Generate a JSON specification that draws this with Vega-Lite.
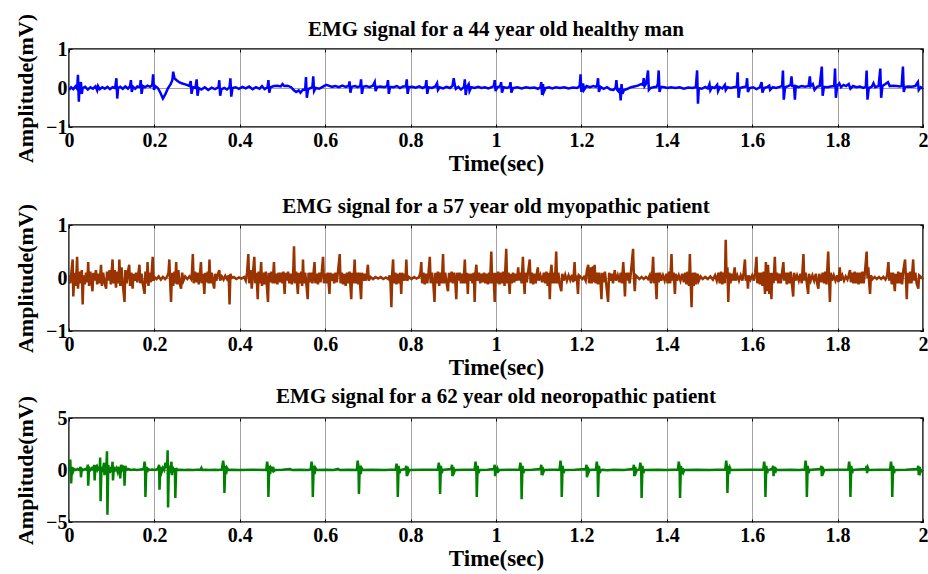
{
"$schema":"https://vega.github.io/schema/vega-lite/v6.json",
"padding":{"left":13,"top":12,"right":0,"bottom":0},
"background":"white",
"config":{
 "font":"Liberation Serif",
 "view":{"stroke":"black","strokeWidth":1.5},
 "title":{"font":"Liberation Serif","fontSize":21,"fontWeight":"bold","color":"black","anchor":"middle"},
 "axis":{"labelFont":"Liberation Serif","labelFontSize":20,"labelFontWeight":"bold","labelColor":"black","titleFont":"Liberation Serif","titleFontWeight":"bold","titleColor":"black","domain":false,"tickColor":"black","tickSize":-3,"tickWidth":1,"gridColor":"#8c8c8c","gridWidth":0.8,"labelFlush":false,"labelOverlap":false,"minExtent":0},
 "axisX":{"labelPadding":6,"titlePadding":2,"titleFontSize":23},
 "axisY":{"labelPadding":5,"titlePadding":8,"titleFontSize":22}
},
"datasets":{
"a":[{"t":0.000,"v":-0.05},{"t":0.005,"v":0.02},{"t":0.010,"v":-0.03},{"t":0.015,"v":0.04},{"t":0.019,"v":-0.02},{"t":0.021,"v":0.34},{"t":0.023,"v":-0.35},{"t":0.025,"v":0.05},{"t":0.028,"v":0.15},{"t":0.030,"v":-0.15},{"t":0.032,"v":0.0},{"t":0.038,"v":0.03},{"t":0.044,"v":-0.04},{"t":0.050,"v":0.02},{"t":0.056,"v":-0.02},{"t":0.062,"v":0.04},{"t":0.066,"v":-0.06},{"t":0.068,"v":0.05},{"t":0.072,"v":-0.03},{"t":0.078,"v":0.02},{"t":0.084,"v":-0.02},{"t":0.090,"v":0.03},{"t":0.096,"v":-0.03},{"t":0.102,"v":0.02},{"t":0.108,"v":0.0},{"t":0.111,"v":0.25},{"t":0.113,"v":-0.27},{"t":0.115,"v":0.0},{"t":0.120,"v":0.03},{"t":0.126,"v":-0.02},{"t":0.132,"v":0.04},{"t":0.138,"v":-0.02},{"t":0.143,"v":0.05},{"t":0.145,"v":0.2},{"t":0.147,"v":-0.1},{"t":0.150,"v":0.03},{"t":0.155,"v":-0.02},{"t":0.160,"v":0.04},{"t":0.166,"v":0.02},{"t":0.168,"v":0.2},{"t":0.170,"v":-0.15},{"t":0.173,"v":0.05},{"t":0.178,"v":0.02},{"t":0.184,"v":0.06},{"t":0.190,"v":0.03},{"t":0.195,"v":0.08},{"t":0.197,"v":0.35},{"t":0.199,"v":-0.05},{"t":0.202,"v":0.05},{"t":0.208,"v":0.0},{"t":0.214,"v":-0.12},{"t":0.220,"v":-0.27},{"t":0.226,"v":-0.15},{"t":0.232,"v":0.0},{"t":0.238,"v":0.1},{"t":0.242,"v":0.2},{"t":0.244,"v":0.42},{"t":0.247,"v":0.25},{"t":0.252,"v":0.2},{"t":0.258,"v":0.15},{"t":0.264,"v":0.12},{"t":0.270,"v":0.1},{"t":0.276,"v":0.08},{"t":0.282,"v":0.05},{"t":0.285,"v":0.18},{"t":0.287,"v":-0.15},{"t":0.290,"v":0.02},{"t":0.296,"v":0.0},{"t":0.299,"v":0.22},{"t":0.301,"v":-0.2},{"t":0.304,"v":0.0},{"t":0.310,"v":-0.04},{"t":0.318,"v":0.02},{"t":0.326,"v":-0.05},{"t":0.334,"v":0.01},{"t":0.342,"v":-0.03},{"t":0.350,"v":0.02},{"t":0.352,"v":0.2},{"t":0.354,"v":-0.2},{"t":0.357,"v":-0.03},{"t":0.364,"v":0.0},{"t":0.370,"v":-0.04},{"t":0.376,"v":0.02},{"t":0.378,"v":0.25},{"t":0.380,"v":-0.22},{"t":0.383,"v":0.0},{"t":0.390,"v":0.02},{"t":0.398,"v":-0.02},{"t":0.406,"v":0.03},{"t":0.414,"v":-0.01},{"t":0.422,"v":0.04},{"t":0.430,"v":-0.03},{"t":0.438,"v":0.02},{"t":0.446,"v":-0.02},{"t":0.452,"v":0.05},{"t":0.458,"v":-0.03},{"t":0.465,"v":0.02},{"t":0.467,"v":0.2},{"t":0.469,"v":-0.12},{"t":0.472,"v":0.02},{"t":0.480,"v":0.05},{"t":0.488,"v":0.06},{"t":0.496,"v":0.04},{"t":0.500,"v":0.1},{"t":0.504,"v":0.05},{"t":0.512,"v":0.06},{"t":0.520,"v":0.02},{"t":0.526,"v":-0.05},{"t":0.532,"v":-0.1},{"t":0.538,"v":-0.06},{"t":0.542,"v":-0.12},{"t":0.548,"v":-0.04},{"t":0.553,"v":-0.05},{"t":0.555,"v":0.28},{"t":0.557,"v":-0.25},{"t":0.560,"v":-0.03},{"t":0.566,"v":0.0},{"t":0.570,"v":0.02},{"t":0.572,"v":0.3},{"t":0.574,"v":-0.08},{"t":0.578,"v":0.0},{"t":0.586,"v":-0.02},{"t":0.594,"v":0.03},{"t":0.602,"v":0.08},{"t":0.608,"v":0.06},{"t":0.616,"v":0.03},{"t":0.624,"v":0.05},{"t":0.632,"v":0.02},{"t":0.640,"v":0.06},{"t":0.648,"v":0.03},{"t":0.655,"v":0.05},{"t":0.657,"v":0.17},{"t":0.659,"v":-0.12},{"t":0.662,"v":0.03},{"t":0.670,"v":0.05},{"t":0.676,"v":0.02},{"t":0.682,"v":0.05},{"t":0.684,"v":0.22},{"t":0.686,"v":-0.15},{"t":0.689,"v":0.03},{"t":0.696,"v":0.05},{"t":0.704,"v":0.02},{"t":0.712,"v":0.06},{"t":0.716,"v":0.15},{"t":0.718,"v":-0.08},{"t":0.722,"v":0.03},{"t":0.730,"v":0.04},{"t":0.738,"v":0.02},{"t":0.745,"v":0.05},{"t":0.747,"v":0.2},{"t":0.749,"v":-0.15},{"t":0.752,"v":0.03},{"t":0.760,"v":0.02},{"t":0.768,"v":0.05},{"t":0.775,"v":0.0},{"t":0.782,"v":0.04},{"t":0.789,"v":0.04},{"t":0.791,"v":0.22},{"t":0.793,"v":-0.15},{"t":0.796,"v":0.02},{"t":0.804,"v":0.03},{"t":0.812,"v":0.01},{"t":0.820,"v":0.04},{"t":0.828,"v":0.0},{"t":0.835,"v":0.04},{"t":0.837,"v":0.2},{"t":0.839,"v":-0.15},{"t":0.842,"v":0.02},{"t":0.850,"v":0.0},{"t":0.858,"v":0.04},{"t":0.862,"v":0.12},{"t":0.864,"v":-0.05},{"t":0.868,"v":0.02},{"t":0.876,"v":-0.01},{"t":0.884,"v":0.03},{"t":0.892,"v":0.0},{"t":0.898,"v":0.05},{"t":0.901,"v":0.25},{"t":0.903,"v":0.1},{"t":0.906,"v":-0.02},{"t":0.912,"v":0.03},{"t":0.918,"v":-0.04},{"t":0.925,"v":0.03},{"t":0.927,"v":0.22},{"t":0.929,"v":-0.18},{"t":0.932,"v":0.03},{"t":0.936,"v":0.1},{"t":0.938,"v":-0.08},{"t":0.942,"v":0.02},{"t":0.950,"v":0.0},{"t":0.958,"v":0.03},{"t":0.966,"v":0.0},{"t":0.974,"v":0.02},{"t":0.982,"v":-0.01},{"t":0.990,"v":0.02},{"t":0.995,"v":0.05},{"t":0.997,"v":0.2},{"t":0.999,"v":-0.08},{"t":1.003,"v":0.02},{"t":1.010,"v":0.05},{"t":1.012,"v":0.15},{"t":1.014,"v":-0.12},{"t":1.018,"v":0.02},{"t":1.026,"v":0.0},{"t":1.032,"v":0.03},{"t":1.034,"v":0.15},{"t":1.036,"v":-0.12},{"t":1.040,"v":0.0},{"t":1.050,"v":0.02},{"t":1.060,"v":-0.01},{"t":1.070,"v":0.02},{"t":1.080,"v":0.0},{"t":1.090,"v":0.01},{"t":1.098,"v":-0.02},{"t":1.104,"v":0.02},{"t":1.106,"v":0.15},{"t":1.108,"v":-0.18},{"t":1.110,"v":0.1},{"t":1.112,"v":-0.1},{"t":1.116,"v":0.0},{"t":1.124,"v":0.02},{"t":1.132,"v":-0.01},{"t":1.140,"v":0.02},{"t":1.150,"v":0.0},{"t":1.160,"v":0.02},{"t":1.170,"v":-0.01},{"t":1.180,"v":0.01},{"t":1.190,"v":0.0},{"t":1.196,"v":0.05},{"t":1.198,"v":0.35},{"t":1.200,"v":-0.1},{"t":1.204,"v":0.12},{"t":1.206,"v":-0.05},{"t":1.212,"v":0.05},{"t":1.220,"v":0.02},{"t":1.228,"v":0.05},{"t":1.234,"v":0.03},{"t":1.237,"v":0.08},{"t":1.239,"v":0.25},{"t":1.241,"v":-0.1},{"t":1.245,"v":0.03},{"t":1.252,"v":-0.02},{"t":1.260,"v":0.02},{"t":1.268,"v":-0.04},{"t":1.275,"v":-0.05},{"t":1.280,"v":0.0},{"t":1.282,"v":0.2},{"t":1.284,"v":-0.05},{"t":1.288,"v":-0.1},{"t":1.290,"v":0.0},{"t":1.292,"v":-0.32},{"t":1.294,"v":0.1},{"t":1.296,"v":-0.15},{"t":1.300,"v":-0.05},{"t":1.308,"v":-0.02},{"t":1.316,"v":0.02},{"t":1.324,"v":0.04},{"t":1.332,"v":0.06},{"t":1.340,"v":0.1},{"t":1.344,"v":0.08},{"t":1.346,"v":0.25},{"t":1.348,"v":0.05},{"t":1.352,"v":0.12},{"t":1.356,"v":0.45},{"t":1.358,"v":-0.05},{"t":1.362,"v":0.0},{"t":1.368,"v":0.02},{"t":1.376,"v":0.03},{"t":1.379,"v":0.1},{"t":1.381,"v":0.45},{"t":1.383,"v":-0.1},{"t":1.386,"v":0.03},{"t":1.394,"v":0.02},{"t":1.402,"v":0.0},{"t":1.410,"v":0.02},{"t":1.420,"v":0.0},{"t":1.430,"v":0.02},{"t":1.440,"v":-0.02},{"t":1.450,"v":0.01},{"t":1.460,"v":0.0},{"t":1.468,"v":0.02},{"t":1.471,"v":0.45},{"t":1.473,"v":-0.4},{"t":1.475,"v":0.0},{"t":1.482,"v":-0.02},{"t":1.490,"v":0.03},{"t":1.496,"v":-0.01},{"t":1.500,"v":0.1},{"t":1.502,"v":-0.06},{"t":1.506,"v":0.02},{"t":1.512,"v":0.0},{"t":1.518,"v":0.08},{"t":1.520,"v":-0.08},{"t":1.524,"v":0.02},{"t":1.530,"v":-0.01},{"t":1.536,"v":0.08},{"t":1.538,"v":-0.05},{"t":1.542,"v":0.02},{"t":1.550,"v":0.0},{"t":1.556,"v":0.02},{"t":1.564,"v":0.03},{"t":1.566,"v":0.4},{"t":1.568,"v":-0.25},{"t":1.571,"v":0.0},{"t":1.578,"v":0.02},{"t":1.586,"v":0.04},{"t":1.588,"v":0.25},{"t":1.590,"v":-0.1},{"t":1.594,"v":0.0},{"t":1.602,"v":0.02},{"t":1.610,"v":-0.03},{"t":1.618,"v":0.02},{"t":1.622,"v":0.15},{"t":1.624,"v":-0.12},{"t":1.628,"v":0.0},{"t":1.636,"v":0.03},{"t":1.640,"v":0.06},{"t":1.642,"v":-0.05},{"t":1.648,"v":0.02},{"t":1.656,"v":0.0},{"t":1.664,"v":0.03},{"t":1.670,"v":0.05},{"t":1.672,"v":0.45},{"t":1.674,"v":-0.3},{"t":1.677,"v":0.02},{"t":1.684,"v":0.05},{"t":1.690,"v":0.08},{"t":1.692,"v":0.3},{"t":1.694,"v":0.05},{"t":1.698,"v":0.05},{"t":1.700,"v":-0.3},{"t":1.702,"v":0.05},{"t":1.708,"v":0.02},{"t":1.716,"v":0.05},{"t":1.724,"v":0.03},{"t":1.732,"v":0.05},{"t":1.735,"v":0.3},{"t":1.737,"v":0.05},{"t":1.742,"v":0.1},{"t":1.746,"v":-0.05},{"t":1.752,"v":0.03},{"t":1.758,"v":0.05},{"t":1.763,"v":0.55},{"t":1.765,"v":-0.2},{"t":1.768,"v":0.03},{"t":1.776,"v":0.02},{"t":1.784,"v":0.04},{"t":1.792,"v":0.05},{"t":1.794,"v":0.5},{"t":1.796,"v":-0.25},{"t":1.799,"v":0.05},{"t":1.804,"v":0.12},{"t":1.808,"v":0.02},{"t":1.814,"v":0.08},{"t":1.820,"v":0.05},{"t":1.826,"v":0.1},{"t":1.830,"v":-0.02},{"t":1.836,"v":0.05},{"t":1.844,"v":0.02},{"t":1.852,"v":0.04},{"t":1.860,"v":0.0},{"t":1.866,"v":0.03},{"t":1.868,"v":0.45},{"t":1.870,"v":-0.3},{"t":1.873,"v":0.0},{"t":1.880,"v":0.03},{"t":1.884,"v":0.12},{"t":1.888,"v":0.02},{"t":1.896,"v":0.05},{"t":1.900,"v":0.5},{"t":1.902,"v":-0.25},{"t":1.905,"v":0.05},{"t":1.912,"v":0.1},{"t":1.918,"v":0.15},{"t":1.922,"v":0.05},{"t":1.930,"v":0.06},{"t":1.938,"v":0.05},{"t":1.946,"v":0.04},{"t":1.950,"v":0.05},{"t":1.953,"v":0.55},{"t":1.955,"v":-0.1},{"t":1.958,"v":0.03},{"t":1.966,"v":0.04},{"t":1.974,"v":0.03},{"t":1.982,"v":0.05},{"t":1.988,"v":0.15},{"t":1.990,"v":-0.05},{"t":1.995,"v":0.02},{"t":2.000,"v":-0.02}],
"b":[{"t":0.000,"v":0.05},{"t":0.003,"v":-0.1},{"t":0.006,"v":0.15},{"t":0.0086,"v":0.35},{"t":0.010,"v":-0.35},{"t":0.013,"v":0.1},{"t":0.016,"v":-0.15},{"t":0.019,"v":0.4},{"t":0.021,"v":-0.2},{"t":0.024,"v":0.12},{"t":0.027,"v":-0.1},{"t":0.030,"v":0.15},{"t":0.032,"v":-0.5},{"t":0.034,"v":0.05},{"t":0.037,"v":-0.12},{"t":0.040,"v":0.1},{"t":0.043,"v":-0.08},{"t":0.045,"v":0.3},{"t":0.047,"v":-0.15},{"t":0.050,"v":0.12},{"t":0.053,"v":-0.1},{"t":0.055,"v":-0.25},{"t":0.057,"v":0.1},{"t":0.060,"v":-0.05},{"t":0.063,"v":0.15},{"t":0.066,"v":-0.12},{"t":0.069,"v":0.08},{"t":0.072,"v":-0.1},{"t":0.075,"v":0.25},{"t":0.077,"v":-0.15},{"t":0.080,"v":0.1},{"t":0.083,"v":-0.08},{"t":0.087,"v":-0.2},{"t":0.089,"v":0.12},{"t":0.092,"v":-0.05},{"t":0.095,"v":0.15},{"t":0.098,"v":-0.12},{"t":0.102,"v":0.35},{"t":0.104,"v":-0.1},{"t":0.107,"v":0.15},{"t":0.110,"v":-0.18},{"t":0.113,"v":0.12},{"t":0.116,"v":-0.1},{"t":0.118,"v":0.35},{"t":0.120,"v":-0.15},{"t":0.123,"v":0.2},{"t":0.126,"v":-0.12},{"t":0.130,"v":-0.45},{"t":0.132,"v":0.15},{"t":0.135,"v":-0.1},{"t":0.138,"v":0.12},{"t":0.141,"v":0.25},{"t":0.143,"v":-0.15},{"t":0.146,"v":0.1},{"t":0.149,"v":-0.2},{"t":0.151,"v":0.08},{"t":0.154,"v":-0.05},{"t":0.157,"v":0.1},{"t":0.160,"v":-0.08},{"t":0.163,"v":0.12},{"t":0.165,"v":0.25},{"t":0.167,"v":-0.1},{"t":0.170,"v":0.08},{"t":0.173,"v":-0.12},{"t":0.177,"v":-0.3},{"t":0.179,"v":0.12},{"t":0.182,"v":-0.1},{"t":0.184,"v":0.3},{"t":0.186,"v":-0.15},{"t":0.189,"v":0.1},{"t":0.192,"v":-0.08},{"t":0.194,"v":0.15},{"t":0.196,"v":0.4},{"t":0.198,"v":-0.05},{"t":0.200,"v":0.02},{"t":0.205,"v":-0.02},{"t":0.210,"v":0.03},{"t":0.215,"v":-0.03},{"t":0.220,"v":0.02},{"t":0.225,"v":-0.02},{"t":0.230,"v":0.03},{"t":0.233,"v":0.1},{"t":0.235,"v":0.35},{"t":0.237,"v":-0.1},{"t":0.239,"v":-0.45},{"t":0.241,"v":0.1},{"t":0.244,"v":-0.15},{"t":0.247,"v":0.12},{"t":0.249,"v":-0.1},{"t":0.251,"v":0.3},{"t":0.253,"v":-0.12},{"t":0.256,"v":0.15},{"t":0.259,"v":-0.1},{"t":0.2625,"v":-0.2},{"t":0.265,"v":0.1},{"t":0.268,"v":-0.05},{"t":0.272,"v":0.03},{"t":0.277,"v":-0.02},{"t":0.282,"v":0.03},{"t":0.286,"v":-0.02},{"t":0.288,"v":0.1},{"t":0.290,"v":0.45},{"t":0.292,"v":-0.1},{"t":0.295,"v":0.12},{"t":0.298,"v":-0.08},{"t":0.301,"v":0.1},{"t":0.304,"v":-0.12},{"t":0.307,"v":0.1},{"t":0.309,"v":0.3},{"t":0.311,"v":-0.1},{"t":0.314,"v":0.08},{"t":0.317,"v":-0.3},{"t":0.319,"v":0.1},{"t":0.322,"v":-0.08},{"t":0.325,"v":0.12},{"t":0.327,"v":-0.1},{"t":0.329,"v":0.35},{"t":0.331,"v":-0.1},{"t":0.334,"v":0.1},{"t":0.337,"v":-0.08},{"t":0.340,"v":-0.2},{"t":0.342,"v":0.08},{"t":0.345,"v":-0.05},{"t":0.348,"v":0.06},{"t":0.352,"v":0.15},{"t":0.354,"v":-0.05},{"t":0.358,"v":0.03},{"t":0.362,"v":-0.03},{"t":0.366,"v":0.04},{"t":0.370,"v":-0.02},{"t":0.374,"v":0.05},{"t":0.376,"v":-0.5},{"t":0.378,"v":0.08},{"t":0.381,"v":0.0},{"t":0.386,"v":0.02},{"t":0.392,"v":-0.02},{"t":0.398,"v":0.01},{"t":0.404,"v":-0.01},{"t":0.410,"v":0.02},{"t":0.414,"v":-0.05},{"t":0.417,"v":0.1},{"t":0.420,"v":0.45},{"t":0.422,"v":-0.1},{"t":0.425,"v":0.15},{"t":0.428,"v":-0.2},{"t":0.431,"v":0.12},{"t":0.434,"v":0.4},{"t":0.436,"v":-0.1},{"t":0.439,"v":0.1},{"t":0.442,"v":-0.4},{"t":0.444,"v":0.12},{"t":0.447,"v":-0.1},{"t":0.450,"v":0.3},{"t":0.452,"v":-0.15},{"t":0.455,"v":0.1},{"t":0.458,"v":-0.12},{"t":0.461,"v":0.12},{"t":0.463,"v":-0.1},{"t":0.466,"v":-0.45},{"t":0.468,"v":0.1},{"t":0.471,"v":-0.08},{"t":0.474,"v":0.12},{"t":0.477,"v":-0.1},{"t":0.480,"v":0.3},{"t":0.482,"v":-0.1},{"t":0.485,"v":0.08},{"t":0.488,"v":-0.12},{"t":0.491,"v":0.1},{"t":0.494,"v":-0.08},{"t":0.497,"v":0.1},{"t":0.500,"v":-0.1},{"t":0.502,"v":0.12},{"t":0.505,"v":-0.3},{"t":0.507,"v":0.1},{"t":0.510,"v":-0.05},{"t":0.513,"v":0.12},{"t":0.516,"v":-0.1},{"t":0.519,"v":0.08},{"t":0.522,"v":-0.12},{"t":0.525,"v":0.1},{"t":0.527,"v":0.6},{"t":0.529,"v":-0.1},{"t":0.532,"v":0.12},{"t":0.536,"v":-0.3},{"t":0.538,"v":0.1},{"t":0.541,"v":-0.1},{"t":0.544,"v":0.12},{"t":0.546,"v":-0.15},{"t":0.548,"v":0.35},{"t":0.550,"v":-0.1},{"t":0.553,"v":0.1},{"t":0.556,"v":-0.12},{"t":0.559,"v":-0.4},{"t":0.561,"v":0.1},{"t":0.564,"v":-0.08},{"t":0.567,"v":0.1},{"t":0.570,"v":-0.1},{"t":0.573,"v":0.12},{"t":0.575,"v":0.3},{"t":0.577,"v":-0.1},{"t":0.580,"v":0.08},{"t":0.583,"v":-0.12},{"t":0.586,"v":0.1},{"t":0.589,"v":-0.08},{"t":0.592,"v":0.12},{"t":0.595,"v":0.4},{"t":0.597,"v":-0.1},{"t":0.600,"v":0.08},{"t":0.603,"v":-0.1},{"t":0.606,"v":0.1},{"t":0.610,"v":-0.3},{"t":0.612,"v":0.1},{"t":0.615,"v":-0.05},{"t":0.618,"v":0.08},{"t":0.621,"v":-0.1},{"t":0.624,"v":0.1},{"t":0.627,"v":-0.08},{"t":0.630,"v":0.12},{"t":0.634,"v":0.45},{"t":0.636,"v":-0.1},{"t":0.639,"v":0.1},{"t":0.642,"v":-0.12},{"t":0.645,"v":0.08},{"t":0.648,"v":-0.15},{"t":0.651,"v":0.1},{"t":0.654,"v":-0.1},{"t":0.657,"v":0.12},{"t":0.661,"v":-0.4},{"t":0.663,"v":0.1},{"t":0.666,"v":-0.1},{"t":0.669,"v":0.35},{"t":0.671,"v":-0.1},{"t":0.674,"v":0.1},{"t":0.677,"v":-0.12},{"t":0.680,"v":0.1},{"t":0.684,"v":-0.4},{"t":0.686,"v":0.1},{"t":0.689,"v":-0.05},{"t":0.692,"v":0.08},{"t":0.695,"v":-0.05},{"t":0.698,"v":0.1},{"t":0.700,"v":0.25},{"t":0.702,"v":-0.05},{"t":0.706,"v":0.02},{"t":0.712,"v":-0.02},{"t":0.718,"v":0.02},{"t":0.724,"v":-0.01},{"t":0.730,"v":0.02},{"t":0.736,"v":-0.02},{"t":0.742,"v":0.01},{"t":0.748,"v":-0.02},{"t":0.751,"v":0.05},{"t":0.753,"v":-0.1},{"t":0.755,"v":-0.55},{"t":0.757,"v":0.1},{"t":0.759,"v":0.35},{"t":0.761,"v":-0.1},{"t":0.764,"v":0.1},{"t":0.767,"v":-0.12},{"t":0.770,"v":0.08},{"t":0.773,"v":-0.1},{"t":0.776,"v":0.1},{"t":0.778,"v":-0.3},{"t":0.780,"v":0.1},{"t":0.783,"v":-0.05},{"t":0.786,"v":0.08},{"t":0.788,"v":-0.05},{"t":0.790,"v":0.35},{"t":0.792,"v":-0.05},{"t":0.796,"v":0.02},{"t":0.802,"v":-0.02},{"t":0.808,"v":0.02},{"t":0.814,"v":-0.01},{"t":0.820,"v":0.02},{"t":0.823,"v":0.1},{"t":0.825,"v":0.3},{"t":0.827,"v":-0.1},{"t":0.830,"v":0.1},{"t":0.833,"v":-0.12},{"t":0.836,"v":0.08},{"t":0.839,"v":-0.1},{"t":0.842,"v":0.1},{"t":0.845,"v":0.4},{"t":0.847,"v":-0.1},{"t":0.850,"v":0.1},{"t":0.853,"v":-0.08},{"t":0.856,"v":-0.45},{"t":0.858,"v":0.1},{"t":0.861,"v":-0.1},{"t":0.864,"v":0.12},{"t":0.867,"v":-0.15},{"t":0.870,"v":0.1},{"t":0.873,"v":-0.1},{"t":0.876,"v":0.45},{"t":0.878,"v":-0.1},{"t":0.881,"v":0.1},{"t":0.884,"v":-0.08},{"t":0.8875,"v":-0.25},{"t":0.890,"v":0.1},{"t":0.893,"v":-0.08},{"t":0.896,"v":0.12},{"t":0.899,"v":-0.1},{"t":0.902,"v":0.1},{"t":0.905,"v":-0.12},{"t":0.907,"v":-0.4},{"t":0.909,"v":0.1},{"t":0.912,"v":-0.05},{"t":0.915,"v":0.1},{"t":0.918,"v":-0.1},{"t":0.921,"v":0.08},{"t":0.924,"v":-0.1},{"t":0.927,"v":0.35},{"t":0.929,"v":-0.1},{"t":0.932,"v":0.1},{"t":0.934,"v":-0.3},{"t":0.936,"v":0.08},{"t":0.939,"v":-0.05},{"t":0.942,"v":0.08},{"t":0.945,"v":-0.1},{"t":0.948,"v":0.1},{"t":0.950,"v":-0.45},{"t":0.952,"v":0.1},{"t":0.954,"v":0.25},{"t":0.956,"v":-0.05},{"t":0.960,"v":0.1},{"t":0.963,"v":-0.1},{"t":0.966,"v":0.08},{"t":0.969,"v":-0.08},{"t":0.972,"v":0.1},{"t":0.975,"v":-0.1},{"t":0.978,"v":0.08},{"t":0.981,"v":-0.12},{"t":0.984,"v":0.1},{"t":0.986,"v":-0.1},{"t":0.989,"v":0.5},{"t":0.991,"v":-0.1},{"t":0.994,"v":0.1},{"t":0.997,"v":-0.45},{"t":0.999,"v":0.1},{"t":1.002,"v":-0.1},{"t":1.005,"v":0.12},{"t":1.008,"v":-0.12},{"t":1.011,"v":0.1},{"t":1.014,"v":-0.1},{"t":1.017,"v":0.12},{"t":1.020,"v":-0.15},{"t":1.024,"v":0.55},{"t":1.026,"v":-0.1},{"t":1.029,"v":0.1},{"t":1.032,"v":-0.3},{"t":1.034,"v":0.08},{"t":1.037,"v":-0.1},{"t":1.040,"v":0.1},{"t":1.043,"v":-0.08},{"t":1.046,"v":0.08},{"t":1.049,"v":-0.05},{"t":1.052,"v":0.2},{"t":1.054,"v":-0.05},{"t":1.057,"v":0.1},{"t":1.060,"v":-0.1},{"t":1.063,"v":0.4},{"t":1.065,"v":0.0},{"t":1.067,"v":-0.3},{"t":1.069,"v":0.1},{"t":1.072,"v":-0.08},{"t":1.075,"v":0.1},{"t":1.079,"v":0.35},{"t":1.081,"v":-0.1},{"t":1.084,"v":0.1},{"t":1.087,"v":-0.12},{"t":1.090,"v":0.08},{"t":1.093,"v":-0.1},{"t":1.096,"v":0.1},{"t":1.098,"v":0.2},{"t":1.100,"v":-0.05},{"t":1.104,"v":0.05},{"t":1.108,"v":-0.08},{"t":1.112,"v":0.1},{"t":1.115,"v":-0.1},{"t":1.118,"v":0.12},{"t":1.121,"v":-0.15},{"t":1.124,"v":0.1},{"t":1.126,"v":-0.4},{"t":1.128,"v":0.1},{"t":1.130,"v":0.25},{"t":1.132,"v":-0.1},{"t":1.135,"v":0.1},{"t":1.138,"v":-0.1},{"t":1.141,"v":0.5},{"t":1.143,"v":-0.1},{"t":1.146,"v":0.1},{"t":1.149,"v":-0.12},{"t":1.153,"v":-0.25},{"t":1.155,"v":0.08},{"t":1.158,"v":-0.05},{"t":1.162,"v":0.06},{"t":1.166,"v":-0.05},{"t":1.170,"v":0.05},{"t":1.174,"v":-0.04},{"t":1.178,"v":0.06},{"t":1.181,"v":-0.08},{"t":1.184,"v":0.3},{"t":1.186,"v":-0.05},{"t":1.189,"v":0.05},{"t":1.192,"v":-0.3},{"t":1.194,"v":0.05},{"t":1.198,"v":0.02},{"t":1.202,"v":-0.02},{"t":1.206,"v":0.02},{"t":1.210,"v":-0.05},{"t":1.213,"v":0.15},{"t":1.216,"v":0.25},{"t":1.218,"v":-0.1},{"t":1.221,"v":0.2},{"t":1.224,"v":-0.1},{"t":1.227,"v":0.22},{"t":1.229,"v":-0.08},{"t":1.231,"v":0.25},{"t":1.233,"v":-0.1},{"t":1.236,"v":0.1},{"t":1.239,"v":-0.12},{"t":1.242,"v":0.1},{"t":1.245,"v":-0.1},{"t":1.247,"v":-0.4},{"t":1.249,"v":0.1},{"t":1.252,"v":-0.08},{"t":1.255,"v":0.12},{"t":1.258,"v":-0.1},{"t":1.2625,"v":-0.45},{"t":1.265,"v":0.1},{"t":1.268,"v":-0.05},{"t":1.271,"v":0.08},{"t":1.274,"v":-0.1},{"t":1.278,"v":0.15},{"t":1.281,"v":-0.05},{"t":1.285,"v":0.05},{"t":1.289,"v":-0.08},{"t":1.292,"v":0.1},{"t":1.295,"v":-0.1},{"t":1.298,"v":0.3},{"t":1.300,"v":0.0},{"t":1.302,"v":-0.35},{"t":1.304,"v":0.1},{"t":1.307,"v":-0.05},{"t":1.310,"v":0.1},{"t":1.313,"v":-0.1},{"t":1.316,"v":0.1},{"t":1.321,"v":0.55},{"t":1.323,"v":0.0},{"t":1.325,"v":-0.25},{"t":1.327,"v":0.05},{"t":1.331,"v":0.02},{"t":1.336,"v":-0.02},{"t":1.341,"v":0.02},{"t":1.346,"v":-0.02},{"t":1.351,"v":0.02},{"t":1.356,"v":-0.02},{"t":1.360,"v":0.05},{"t":1.363,"v":-0.1},{"t":1.366,"v":0.1},{"t":1.368,"v":0.4},{"t":1.370,"v":-0.1},{"t":1.373,"v":0.1},{"t":1.376,"v":-0.4},{"t":1.378,"v":0.1},{"t":1.381,"v":-0.08},{"t":1.384,"v":0.1},{"t":1.387,"v":-0.05},{"t":1.391,"v":0.05},{"t":1.395,"v":-0.05},{"t":1.399,"v":0.08},{"t":1.402,"v":-0.1},{"t":1.405,"v":0.12},{"t":1.408,"v":-0.1},{"t":1.411,"v":0.45},{"t":1.413,"v":-0.05},{"t":1.416,"v":0.1},{"t":1.419,"v":-0.3},{"t":1.421,"v":0.08},{"t":1.424,"v":-0.05},{"t":1.428,"v":0.05},{"t":1.432,"v":-0.05},{"t":1.436,"v":0.08},{"t":1.440,"v":-0.08},{"t":1.443,"v":0.1},{"t":1.446,"v":-0.12},{"t":1.449,"v":0.12},{"t":1.452,"v":-0.15},{"t":1.454,"v":0.45},{"t":1.456,"v":-0.1},{"t":1.458,"v":-0.55},{"t":1.460,"v":0.1},{"t":1.463,"v":-0.15},{"t":1.466,"v":0.1},{"t":1.469,"v":-0.12},{"t":1.472,"v":0.08},{"t":1.475,"v":-0.05},{"t":1.479,"v":0.03},{"t":1.484,"v":-0.02},{"t":1.490,"v":0.02},{"t":1.496,"v":-0.02},{"t":1.502,"v":0.03},{"t":1.508,"v":-0.03},{"t":1.513,"v":0.05},{"t":1.517,"v":-0.05},{"t":1.521,"v":0.1},{"t":1.524,"v":-0.1},{"t":1.527,"v":0.12},{"t":1.530,"v":-0.12},{"t":1.533,"v":0.1},{"t":1.536,"v":-0.1},{"t":1.538,"v":0.72},{"t":1.540,"v":0.0},{"t":1.542,"v":0.2},{"t":1.544,"v":-0.45},{"t":1.546,"v":0.1},{"t":1.549,"v":-0.1},{"t":1.552,"v":0.08},{"t":1.555,"v":-0.05},{"t":1.559,"v":0.2},{"t":1.561,"v":-0.05},{"t":1.565,"v":0.05},{"t":1.569,"v":-0.05},{"t":1.573,"v":0.05},{"t":1.577,"v":-0.05},{"t":1.580,"v":0.1},{"t":1.583,"v":0.35},{"t":1.585,"v":-0.05},{"t":1.588,"v":0.05},{"t":1.590,"v":-0.2},{"t":1.592,"v":0.05},{"t":1.596,"v":-0.03},{"t":1.600,"v":0.05},{"t":1.604,"v":-0.05},{"t":1.607,"v":0.1},{"t":1.610,"v":0.4},{"t":1.612,"v":-0.1},{"t":1.615,"v":0.1},{"t":1.618,"v":-0.12},{"t":1.621,"v":0.1},{"t":1.624,"v":-0.15},{"t":1.627,"v":0.12},{"t":1.630,"v":-0.3},{"t":1.632,"v":0.3},{"t":1.634,"v":-0.25},{"t":1.637,"v":0.25},{"t":1.640,"v":-0.3},{"t":1.642,"v":0.1},{"t":1.645,"v":-0.4},{"t":1.647,"v":0.1},{"t":1.650,"v":-0.1},{"t":1.653,"v":0.4},{"t":1.655,"v":-0.05},{"t":1.658,"v":0.1},{"t":1.661,"v":-0.1},{"t":1.664,"v":0.08},{"t":1.667,"v":-0.1},{"t":1.670,"v":0.1},{"t":1.673,"v":0.3},{"t":1.675,"v":-0.05},{"t":1.678,"v":0.1},{"t":1.681,"v":-0.12},{"t":1.684,"v":0.1},{"t":1.687,"v":-0.1},{"t":1.690,"v":0.12},{"t":1.693,"v":-0.1},{"t":1.696,"v":-0.35},{"t":1.698,"v":0.1},{"t":1.701,"v":-0.05},{"t":1.705,"v":0.05},{"t":1.709,"v":-0.05},{"t":1.713,"v":0.08},{"t":1.716,"v":-0.1},{"t":1.720,"v":0.45},{"t":1.722,"v":-0.05},{"t":1.725,"v":0.1},{"t":1.728,"v":-0.1},{"t":1.731,"v":-0.3},{"t":1.733,"v":0.08},{"t":1.737,"v":-0.05},{"t":1.741,"v":0.05},{"t":1.745,"v":-0.05},{"t":1.749,"v":0.08},{"t":1.752,"v":-0.1},{"t":1.755,"v":-0.2},{"t":1.757,"v":0.08},{"t":1.761,"v":-0.08},{"t":1.765,"v":0.1},{"t":1.768,"v":-0.1},{"t":1.771,"v":0.12},{"t":1.774,"v":-0.12},{"t":1.778,"v":0.5},{"t":1.780,"v":0.0},{"t":1.782,"v":-0.45},{"t":1.784,"v":0.1},{"t":1.787,"v":-0.05},{"t":1.791,"v":0.05},{"t":1.795,"v":-0.05},{"t":1.799,"v":0.05},{"t":1.802,"v":-0.08},{"t":1.805,"v":0.2},{"t":1.807,"v":-0.05},{"t":1.811,"v":0.05},{"t":1.815,"v":-0.05},{"t":1.819,"v":0.03},{"t":1.823,"v":-0.03},{"t":1.826,"v":0.05},{"t":1.829,"v":0.15},{"t":1.831,"v":-0.08},{"t":1.834,"v":0.1},{"t":1.837,"v":-0.1},{"t":1.840,"v":0.12},{"t":1.843,"v":-0.1},{"t":1.846,"v":0.1},{"t":1.849,"v":-0.12},{"t":1.852,"v":0.1},{"t":1.855,"v":-0.1},{"t":1.858,"v":0.12},{"t":1.861,"v":-0.1},{"t":1.864,"v":0.1},{"t":1.868,"v":0.5},{"t":1.870,"v":0.0},{"t":1.872,"v":0.2},{"t":1.874,"v":-0.1},{"t":1.876,"v":-0.3},{"t":1.878,"v":0.05},{"t":1.882,"v":-0.02},{"t":1.887,"v":0.02},{"t":1.892,"v":-0.02},{"t":1.897,"v":0.02},{"t":1.902,"v":-0.02},{"t":1.907,"v":0.02},{"t":1.912,"v":-0.03},{"t":1.916,"v":0.05},{"t":1.919,"v":0.3},{"t":1.921,"v":-0.05},{"t":1.924,"v":0.1},{"t":1.927,"v":-0.12},{"t":1.930,"v":0.1},{"t":1.934,"v":-0.25},{"t":1.936,"v":0.08},{"t":1.939,"v":-0.1},{"t":1.942,"v":0.12},{"t":1.945,"v":-0.1},{"t":1.948,"v":0.1},{"t":1.951,"v":-0.12},{"t":1.954,"v":0.15},{"t":1.958,"v":0.35},{"t":1.960,"v":0.0},{"t":1.962,"v":-0.4},{"t":1.964,"v":0.1},{"t":1.967,"v":-0.1},{"t":1.970,"v":0.12},{"t":1.973,"v":-0.1},{"t":1.977,"v":0.35},{"t":1.979,"v":-0.05},{"t":1.982,"v":0.1},{"t":1.985,"v":-0.1},{"t":1.989,"v":-0.2},{"t":1.991,"v":0.05},{"t":1.995,"v":0.02},{"t":2.000,"v":-0.02}],
"c":[{"t":0.000,"v":0.0},{"t":0.002,"v":0.6},{"t":0.003,"v":1.0},{"t":0.005,"v":-1.3},{"t":0.007,"v":0.3},{"t":0.009,"v":-0.2},{"t":0.012,"v":0.1},{"t":0.016,"v":0.0},{"t":0.020,"v":0.1},{"t":0.024,"v":0.0},{"t":0.027,"v":0.3},{"t":0.028,"v":-0.7},{"t":0.030,"v":0.1},{"t":0.034,"v":0.0},{"t":0.038,"v":0.1},{"t":0.042,"v":0.0},{"t":0.044,"v":0.5},{"t":0.045,"v":-1.5},{"t":0.047,"v":0.2},{"t":0.050,"v":0.0},{"t":0.054,"v":0.2},{"t":0.058,"v":0.0},{"t":0.059,"v":0.5},{"t":0.060,"v":-1.0},{"t":0.062,"v":0.3},{"t":0.065,"v":0.4},{"t":0.067,"v":0.0},{"t":0.070,"v":0.2},{"t":0.072,"v":0.1},{"t":0.073,"v":1.2},{"t":0.074,"v":-3.0},{"t":0.076,"v":0.3},{"t":0.078,"v":-0.2},{"t":0.080,"v":0.2},{"t":0.082,"v":0.7},{"t":0.083,"v":-0.5},{"t":0.085,"v":0.2},{"t":0.087,"v":-0.2},{"t":0.089,"v":1.8},{"t":0.090,"v":-4.3},{"t":0.092,"v":0.5},{"t":0.094,"v":-0.3},{"t":0.096,"v":0.3},{"t":0.098,"v":0.0},{"t":0.101,"v":0.3},{"t":0.102,"v":0.8},{"t":0.103,"v":-1.0},{"t":0.105,"v":0.2},{"t":0.108,"v":0.0},{"t":0.111,"v":0.2},{"t":0.114,"v":-0.2},{"t":0.117,"v":0.3},{"t":0.119,"v":-0.2},{"t":0.120,"v":-0.8},{"t":0.122,"v":0.5},{"t":0.124,"v":0.0},{"t":0.127,"v":0.3},{"t":0.129,"v":0.2},{"t":0.130,"v":-1.5},{"t":0.132,"v":0.4},{"t":0.134,"v":0.0},{"t":0.138,"v":0.1},{"t":0.145,"v":0.0},{"t":0.152,"v":0.05},{"t":0.160,"v":0.0},{"t":0.168,"v":0.05},{"t":0.175,"v":0.1},{"t":0.177,"v":0.8},{"t":0.178,"v":0.5},{"t":0.179,"v":-2.6},{"t":0.181,"v":0.3},{"t":0.183,"v":-0.2},{"t":0.185,"v":0.1},{"t":0.188,"v":0.0},{"t":0.195,"v":0.05},{"t":0.202,"v":0.0},{"t":0.208,"v":0.1},{"t":0.211,"v":0.5},{"t":0.212,"v":-1.9},{"t":0.214,"v":0.3},{"t":0.217,"v":-0.2},{"t":0.220,"v":0.2},{"t":0.223,"v":0.0},{"t":0.226,"v":0.7},{"t":0.228,"v":0.2},{"t":0.230,"v":0.5},{"t":0.231,"v":1.9},{"t":0.232,"v":-3.6},{"t":0.234,"v":0.4},{"t":0.236,"v":-0.3},{"t":0.238,"v":0.3},{"t":0.240,"v":0.8},{"t":0.241,"v":-0.5},{"t":0.243,"v":0.3},{"t":0.246,"v":-0.2},{"t":0.248,"v":0.2},{"t":0.249,"v":-2.7},{"t":0.251,"v":0.2},{"t":0.253,"v":0.0},{"t":0.260,"v":0.03},{"t":0.270,"v":0.0},{"t":0.280,"v":0.03},{"t":0.290,"v":0.0},{"t":0.300,"v":0.03},{"t":0.308,"v":0.05},{"t":0.310,"v":0.2},{"t":0.312,"v":0.0},{"t":0.320,"v":0.03},{"t":0.330,"v":0.0},{"t":0.340,"v":0.03},{"t":0.350,"v":0.0},{"t":0.358,"v":0.05},{"t":0.361,"v":0.9},{"t":0.363,"v":0.3},{"t":0.364,"v":-2.2},{"t":0.366,"v":0.4},{"t":0.368,"v":-0.4},{"t":0.370,"v":0.2},{"t":0.373,"v":0.0},{"t":0.380,"v":0.03},{"t":0.400,"v":0.0},{"t":0.430,"v":0.03},{"t":0.462,"v":0.0},{"t":0.464,"v":0.8},{"t":0.466,"v":0.2},{"t":0.467,"v":-2.6},{"t":0.469,"v":0.4},{"t":0.471,"v":-0.4},{"t":0.473,"v":0.2},{"t":0.476,"v":0.0},{"t":0.478,"v":0.3},{"t":0.480,"v":-0.1},{"t":0.483,"v":0.0},{"t":0.500,"v":0.03},{"t":0.518,"v":0.1},{"t":0.522,"v":0.0},{"t":0.540,"v":0.03},{"t":0.560,"v":0.0},{"t":0.566,"v":0.05},{"t":0.568,"v":0.8},{"t":0.570,"v":0.2},{"t":0.571,"v":-2.6},{"t":0.573,"v":0.4},{"t":0.575,"v":-0.4},{"t":0.577,"v":0.2},{"t":0.580,"v":0.0},{"t":0.600,"v":0.03},{"t":0.620,"v":0.0},{"t":0.630,"v":0.1},{"t":0.634,"v":0.0},{"t":0.655,"v":0.03},{"t":0.674,"v":0.0},{"t":0.676,"v":0.9},{"t":0.678,"v":0.3},{"t":0.679,"v":-2.3},{"t":0.681,"v":0.4},{"t":0.683,"v":-0.4},{"t":0.685,"v":0.2},{"t":0.688,"v":0.0},{"t":0.710,"v":0.03},{"t":0.740,"v":0.0},{"t":0.765,"v":0.05},{"t":0.767,"v":0.6},{"t":0.769,"v":0.2},{"t":0.770,"v":-2.6},{"t":0.772,"v":0.4},{"t":0.774,"v":-0.3},{"t":0.776,"v":0.0},{"t":0.788,"v":0.1},{"t":0.790,"v":0.4},{"t":0.791,"v":-0.6},{"t":0.793,"v":0.3},{"t":0.795,"v":-0.2},{"t":0.797,"v":0.0},{"t":0.830,"v":0.03},{"t":0.864,"v":0.05},{"t":0.866,"v":0.7},{"t":0.868,"v":0.2},{"t":0.869,"v":-2.3},{"t":0.871,"v":0.4},{"t":0.873,"v":-0.3},{"t":0.875,"v":0.0},{"t":0.895,"v":0.1},{"t":0.897,"v":0.5},{"t":0.898,"v":-0.6},{"t":0.900,"v":0.3},{"t":0.902,"v":-0.2},{"t":0.904,"v":0.0},{"t":0.930,"v":0.03},{"t":0.950,"v":0.05},{"t":0.952,"v":0.8},{"t":0.954,"v":0.2},{"t":0.955,"v":-2.6},{"t":0.957,"v":0.4},{"t":0.959,"v":-0.3},{"t":0.961,"v":0.0},{"t":0.980,"v":0.03},{"t":0.995,"v":0.1},{"t":0.997,"v":0.5},{"t":0.998,"v":-0.6},{"t":1.000,"v":0.3},{"t":1.002,"v":-0.3},{"t":1.004,"v":0.1},{"t":1.006,"v":-0.1},{"t":1.008,"v":0.0},{"t":1.030,"v":0.03},{"t":1.055,"v":0.05},{"t":1.057,"v":0.7},{"t":1.059,"v":0.2},{"t":1.060,"v":-2.8},{"t":1.062,"v":0.4},{"t":1.064,"v":-0.3},{"t":1.066,"v":0.0},{"t":1.085,"v":0.03},{"t":1.104,"v":0.1},{"t":1.106,"v":0.5},{"t":1.107,"v":-0.5},{"t":1.109,"v":0.3},{"t":1.111,"v":-0.2},{"t":1.113,"v":0.0},{"t":1.130,"v":0.03},{"t":1.149,"v":0.05},{"t":1.151,"v":0.9},{"t":1.153,"v":0.2},{"t":1.154,"v":-2.6},{"t":1.156,"v":0.4},{"t":1.158,"v":-0.3},{"t":1.160,"v":0.0},{"t":1.185,"v":0.03},{"t":1.210,"v":0.1},{"t":1.212,"v":0.5},{"t":1.213,"v":-0.7},{"t":1.215,"v":0.3},{"t":1.217,"v":-0.2},{"t":1.219,"v":0.0},{"t":1.234,"v":0.05},{"t":1.236,"v":0.8},{"t":1.238,"v":0.2},{"t":1.239,"v":-2.6},{"t":1.241,"v":0.4},{"t":1.243,"v":-0.3},{"t":1.245,"v":0.0},{"t":1.250,"v":0.03},{"t":1.260,"v":-0.03},{"t":1.275,"v":0.03},{"t":1.300,"v":0.0},{"t":1.321,"v":0.1},{"t":1.323,"v":0.5},{"t":1.324,"v":-0.6},{"t":1.326,"v":0.3},{"t":1.328,"v":-0.2},{"t":1.330,"v":0.0},{"t":1.336,"v":0.05},{"t":1.338,"v":0.7},{"t":1.340,"v":0.2},{"t":1.341,"v":-2.7},{"t":1.343,"v":0.4},{"t":1.345,"v":-0.3},{"t":1.347,"v":0.0},{"t":1.380,"v":0.03},{"t":1.400,"v":0.0},{"t":1.426,"v":0.05},{"t":1.428,"v":0.8},{"t":1.430,"v":0.3},{"t":1.431,"v":-2.7},{"t":1.433,"v":0.4},{"t":1.435,"v":-0.4},{"t":1.437,"v":0.2},{"t":1.439,"v":-0.2},{"t":1.441,"v":0.0},{"t":1.470,"v":0.03},{"t":1.500,"v":0.0},{"t":1.537,"v":0.05},{"t":1.539,"v":0.9},{"t":1.541,"v":0.3},{"t":1.542,"v":-2.2},{"t":1.544,"v":0.4},{"t":1.546,"v":-0.4},{"t":1.548,"v":0.2},{"t":1.550,"v":0.0},{"t":1.590,"v":0.03},{"t":1.626,"v":0.05},{"t":1.628,"v":0.8},{"t":1.630,"v":0.2},{"t":1.631,"v":-2.6},{"t":1.633,"v":0.4},{"t":1.635,"v":-0.3},{"t":1.637,"v":0.0},{"t":1.647,"v":0.1},{"t":1.649,"v":0.4},{"t":1.650,"v":-0.6},{"t":1.652,"v":0.3},{"t":1.654,"v":-0.3},{"t":1.656,"v":0.1},{"t":1.658,"v":0.0},{"t":1.690,"v":0.03},{"t":1.710,"v":0.0},{"t":1.723,"v":0.05},{"t":1.725,"v":0.9},{"t":1.727,"v":0.2},{"t":1.728,"v":-2.6},{"t":1.730,"v":0.4},{"t":1.732,"v":-0.3},{"t":1.734,"v":0.0},{"t":1.760,"v":0.1},{"t":1.762,"v":0.4},{"t":1.763,"v":-0.6},{"t":1.765,"v":0.3},{"t":1.767,"v":-0.2},{"t":1.769,"v":0.0},{"t":1.800,"v":0.03},{"t":1.825,"v":0.05},{"t":1.827,"v":0.8},{"t":1.829,"v":0.2},{"t":1.830,"v":-2.6},{"t":1.832,"v":0.4},{"t":1.834,"v":-0.3},{"t":1.836,"v":0.0},{"t":1.866,"v":0.1},{"t":1.868,"v":0.4},{"t":1.869,"v":-0.3},{"t":1.871,"v":0.2},{"t":1.873,"v":0.0},{"t":1.900,"v":0.03},{"t":1.923,"v":0.05},{"t":1.925,"v":0.8},{"t":1.927,"v":0.2},{"t":1.928,"v":-2.6},{"t":1.930,"v":0.4},{"t":1.932,"v":-0.3},{"t":1.934,"v":0.0},{"t":1.960,"v":0.03},{"t":1.987,"v":0.1},{"t":1.989,"v":0.4},{"t":1.990,"v":-0.5},{"t":1.992,"v":0.3},{"t":1.994,"v":-0.2},{"t":1.996,"v":0.0},{"t":2.000,"v":0.0}]
},
"vconcat":[
 {
  "title":{"text":"EMG signal  for a 44 year old healthy man","offset":-27},
  "width":854,"height":78,
  "data":{"name":"a"},
  "layer":[
   {"mark":{"type":"line","color":"#0000ff","strokeWidth":2.5,"clip":true},
    "encoding":{
     "x":{"field":"t","type":"quantitative","scale":{"domain":[0,2],"nice":false},"axis":{"title":"Time(sec)","values":[0,0.2,0.4,0.6,0.8,1,1.2,1.4,1.6,1.8,2],"format":"~g","grid":true}},
     "y":{"field":"v","type":"quantitative","scale":{"domain":[-1,1],"nice":false},"axis":{"title":"Amplitude(mV)","values":[-1,0,1],"format":"~g","grid":true}}}},
   {"mark":{"type":"line","opacity":0},
    "encoding":{
     "x":{"field":"t","type":"quantitative","axis":{"orient":"top","title":null,"labels":false,"grid":false,"values":[0,0.2,0.4,0.6,0.8,1,1.2,1.4,1.6,1.8,2]}},
     "y":{"field":"v","type":"quantitative","axis":{"orient":"right","title":null,"labels":false,"grid":false,"values":[-1,0,1]}}}}
  ],
  "resolve":{"axis":{"x":"independent","y":"independent"}}
 },
 {
  "spacing":5,
  "vconcat":[
   {
    "title":{"text":"EMG signal  for a  57 year old myopathic patient","offset":-14},
    "width":854,"height":106,
    "data":{"name":"b"},
    "layer":[
     {"mark":{"type":"line","color":"#993300","strokeWidth":2.5,"clip":true},
      "encoding":{
       "x":{"field":"t","type":"quantitative","scale":{"domain":[0,2],"nice":false},"axis":{"title":"Time(sec)","values":[0,0.2,0.4,0.6,0.8,1,1.2,1.4,1.6,1.8,2],"format":"~g","grid":true}},
       "y":{"field":"v","type":"quantitative","scale":{"domain":[-1,1],"nice":false},"axis":{"title":"Amplitude(mV)","values":[-1,0,1],"format":"~g","grid":true}}}},
     {"mark":{"type":"line","opacity":0},
      "encoding":{
       "x":{"field":"t","type":"quantitative","axis":{"orient":"top","title":null,"labels":false,"grid":false,"values":[0,0.2,0.4,0.6,0.8,1,1.2,1.4,1.6,1.8,2]}},
       "y":{"field":"v","type":"quantitative","axis":{"orient":"right","title":null,"labels":false,"grid":false,"values":[-1,0,1]}}}}
    ],
    "resolve":{"axis":{"x":"independent","y":"independent"}}
   },
   {
    "title":{"text":"EMG signal  for a 62 year old neoropathic patient","offset":-12},
    "width":854,"height":104,
    "data":{"name":"c"},
    "layer":[
     {"mark":{"type":"line","color":"#008000","strokeWidth":2.5,"clip":true},
      "encoding":{
       "x":{"field":"t","type":"quantitative","scale":{"domain":[0,2],"nice":false},"axis":{"title":"Time(sec)","values":[0,0.2,0.4,0.6,0.8,1,1.2,1.4,1.6,1.8,2],"format":"~g","grid":true}},
       "y":{"field":"v","type":"quantitative","scale":{"domain":[-5,5],"nice":false},"axis":{"title":"Amplitude(mV)","values":[-5,0,5],"format":"~g","grid":true}}}},
     {"mark":{"type":"line","opacity":0},
      "encoding":{
       "x":{"field":"t","type":"quantitative","axis":{"orient":"top","title":null,"labels":false,"grid":false,"values":[0,0.2,0.4,0.6,0.8,1,1.2,1.4,1.6,1.8,2]}},
       "y":{"field":"v","type":"quantitative","axis":{"orient":"right","title":null,"labels":false,"grid":false,"values":[-5,0,5]}}}}
    ],
    "resolve":{"axis":{"x":"independent","y":"independent"}}
   }
  ]
 }
],
"spacing":19
}
